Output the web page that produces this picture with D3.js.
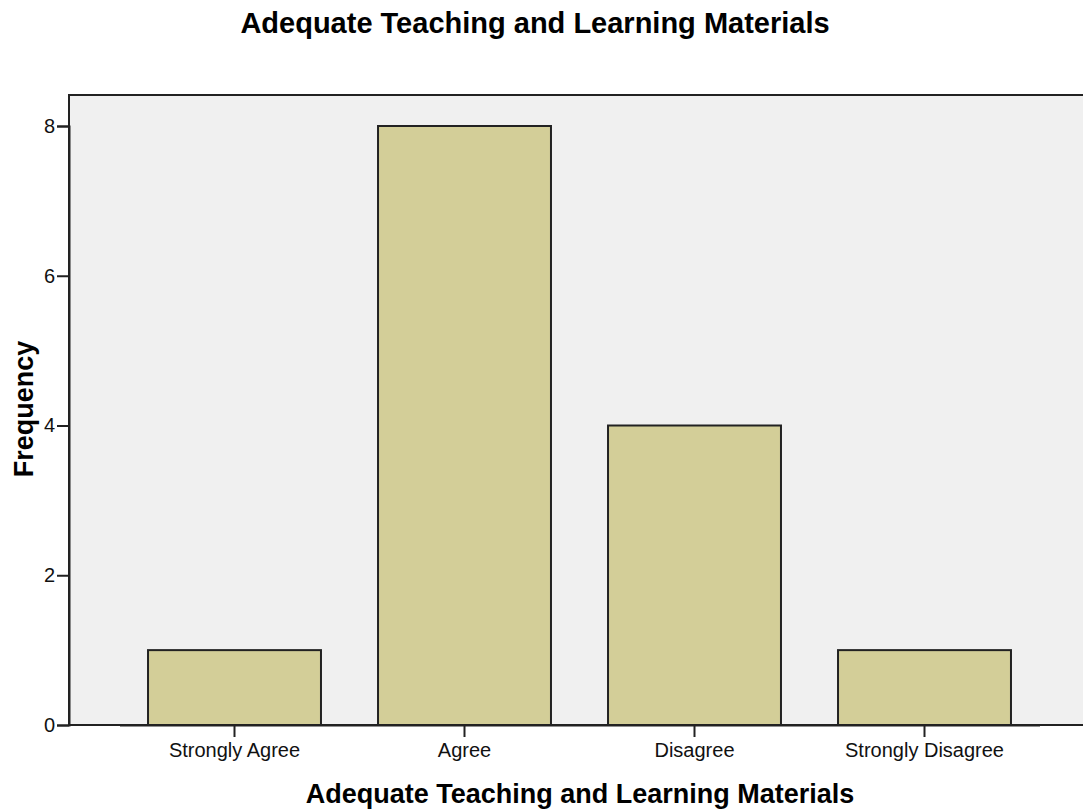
<!DOCTYPE html>
<html><head><meta charset="utf-8">
<script src="https://cdn.jsdelivr.net/npm/d3@7"></script>
<style>body{margin:0;background:#fff;} text{font-family:"Liberation Sans",Arial,sans-serif;}</style>
</head><body>
<svg id="chart" width="1083" height="812"></svg>
<script>
const categories = ["Strongly Agree", "Agree", "Disagree", "Strongly Disagree"];
const frequencies = [1, 8, 4, 1];
const yTicks = [0, 2, 4, 6, 8];
const chartTitle = "Adequate Teaching and Learning Materials";
const xTitle = "Adequate Teaching and Learning Materials";
const yTitle = "Frequency";

const svg = d3.select("#chart");
const mLeft = 69, mTop = 95, mRight = 1085, mBottom = 725;

const x = d3.scaleBand().domain(categories).range([119.5, 1039.5]).paddingInner(0.248).paddingOuter(0.124);
const y = d3.scaleLinear().domain([0, 8]).range([mBottom, 126]);

svg.append("rect").attr("x", mLeft).attr("y", mTop).attr("width", mRight - mLeft).attr("height", mBottom - mTop)
  .attr("fill", "#f0f0f0").attr("stroke", "#222").attr("stroke-width", 2);

svg.selectAll("rect.bar").data(categories).enter().append("rect").attr("class", "bar")
  .attr("x", d => x(d)).attr("width", x.bandwidth())
  .attr("y", (d, i) => y(frequencies[i])).attr("height", (d, i) => y(0) - y(frequencies[i]))
  .attr("fill", "#d3ce98").attr("stroke", "#222").attr("stroke-width", 2);

const yAxis = svg.append("g").attr("transform", `translate(${mLeft},0)`)
  .call(d3.axisLeft(y).tickValues(yTicks).tickFormat(d3.format("d")).tickSize(12).tickPadding(2));
yAxis.select(".domain").attr("stroke", "#222").attr("stroke-width", 2);
yAxis.selectAll(".tick line").attr("stroke", "#222").attr("stroke-width", 2);
yAxis.selectAll(".tick text").attr("font-size", 20).attr("fill", "#111").style("font-family", "Liberation Sans, Arial, sans-serif");

const xAxis = svg.append("g").attr("transform", `translate(0,${mBottom})`)
  .call(d3.axisBottom(x).tickSize(12).tickPadding(6).tickSizeOuter(0));
xAxis.select(".domain").attr("stroke", "#222").attr("stroke-width", 2);
xAxis.selectAll(".tick line").attr("stroke", "#222").attr("stroke-width", 2);
xAxis.selectAll(".tick text").attr("font-size", 20).attr("fill", "#111").style("font-family", "Liberation Sans, Arial, sans-serif");

svg.append("text").attr("x", 535).attr("y", 33).attr("text-anchor", "middle")
  .attr("font-size", 29).attr("font-weight", "bold").attr("fill", "#000").text(chartTitle);
svg.append("text").attr("x", 580).attr("y", 803).attr("text-anchor", "middle")
  .attr("font-size", 27).attr("font-weight", "bold").attr("fill", "#000").text(xTitle);
svg.append("text").attr("transform", "translate(33,409) rotate(-90)").attr("text-anchor", "middle")
  .attr("font-size", 27).attr("font-weight", "bold").attr("fill", "#000").text(yTitle);
</script>
</body></html>
